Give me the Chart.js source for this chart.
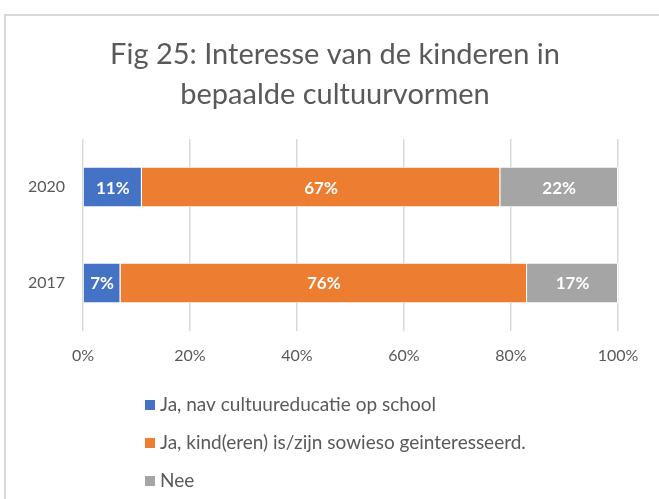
<!DOCTYPE html>
<html>
<head>
<meta charset="utf-8">
<script src="https://cdn.jsdelivr.net/npm/chart.js@4"></script>
<style>
  html, body { margin: 0; padding: 0; background: #fff; }
  #wrap { width: 659px; height: 499px; position: relative; }
</style>
</head>
<body>
<div id="wrap"><canvas id="chart" width="659" height="499"></canvas></div>
<script>
const years = ["2020", "2017"];
const schoolValues = [11, 7];
const sowiesoValues = [67, 76];
const neeValues = [22, 17];
const xTicks = [0, 20, 40, 60, 80, 100];
const seriesLabels = [
  "Ja, nav cultuureducatie op school",
  "Ja, kind(eren) is/zijn sowieso geinteresseerd.",
  "Nee"
];
const seriesColors = ["#4472C4", "#ED7D31", "#A5A5A5"];

const FONT = "Lato, 'Open Sans', sans-serif";
const TEXT = "#595959";

// frame + value labels + the vertical legend at the bottom
const extras = {
  id: "extras",
  beforeDraw(chart) {
    const ctx = chart.ctx;
    ctx.save();
    ctx.strokeStyle = "#d9d9d9";
    ctx.lineWidth = 2;
    ctx.strokeRect(5, 15, 720, 600);
    ctx.restore();
  },
  afterDatasetsDraw(chart) {
    const ctx = chart.ctx;
    ctx.save();
    ctx.font = "bold 17px " + FONT;
    ctx.fillStyle = "#fff";
    ctx.textAlign = "center";
    ctx.textBaseline = "middle";
    chart.data.datasets.forEach((ds, i) => {
      chart.getDatasetMeta(i).data.forEach((bar, j) => {
        const x = (bar.x + bar.base) / 2;
        ctx.fillText(ds.data[j] + "%", x, bar.y + 1);
      });
    });
    ctx.restore();
  },
  afterDraw(chart) {
    const ctx = chart.ctx;
    ctx.save();
    ctx.font = "19px " + FONT;
    ctx.textBaseline = "middle";
    chart.data.datasets.forEach((ds, i) => {
      const y = 405 + i * 38;
      ctx.fillStyle = ds.backgroundColor;
      ctx.fillRect(145, y - 5, 10, 10);
      ctx.fillStyle = TEXT;
      ctx.fillText(ds.label, 160, y);
    });
    ctx.restore();
  }
};

new Chart(document.getElementById("chart"), {
  type: "bar",
  data: {
    labels: years,
    datasets: [schoolValues, sowiesoValues, neeValues].map((vals, i) => ({
      label: seriesLabels[i],
      data: vals,
      backgroundColor: seriesColors[i],
      borderColor: "#fff",
      borderWidth: 1,
      categoryPercentage: 1,
      barPercentage: 0.42
    }))
  },
  options: {
    indexAxis: "y",
    responsive: false,
    animation: false,
    layout: { padding: { left: 15, right: 4, top: 0, bottom: 128 } },
    plugins: {
      legend: { display: false },
      tooltip: { enabled: false },
      title: {
        display: true,
        text: ["Fig 25: Interesse van de kinderen in", "bepaalde cultuurvormen"],
        color: TEXT,
        font: { family: FONT, size: 29, weight: "normal", lineHeight: 1.38 },
        padding: { top: 35, bottom: 24 }
      }
    },
    scales: {
      x: {
        stacked: true,
        min: 0,
        max: 100,
        afterBuildTicks(scale) { scale.ticks = xTicks.map(v => ({ value: v })); },
        grid: { color: "#d9d9d9", lineWidth: 1.5, drawTicks: false },
        border: { display: false },
        ticks: {
          padding: 15,
          color: TEXT,
          font: { family: FONT, size: 16 },
          callback: v => v + "%"
        },
        afterFit(scale) { scale.height = 40; }
      },
      y: {
        stacked: true,
        grid: { display: false, drawTicks: false },
        border: { display: false },
        ticks: { padding: 18, color: TEXT, font: { family: FONT, size: 16 } },
        afterFit(scale) { scale.width = 68; }
      },
      // empty box on the right, keeps the plot edge where the reference has it
      yRight: {
        position: "right",
        display: true,
        grid: { display: false, drawTicks: false },
        border: { display: false },
        ticks: { display: false },
        afterFit(scale) { scale.width = 37; }
      }
    }
  },
  plugins: [extras]
});
</script>
</body>
</html>
